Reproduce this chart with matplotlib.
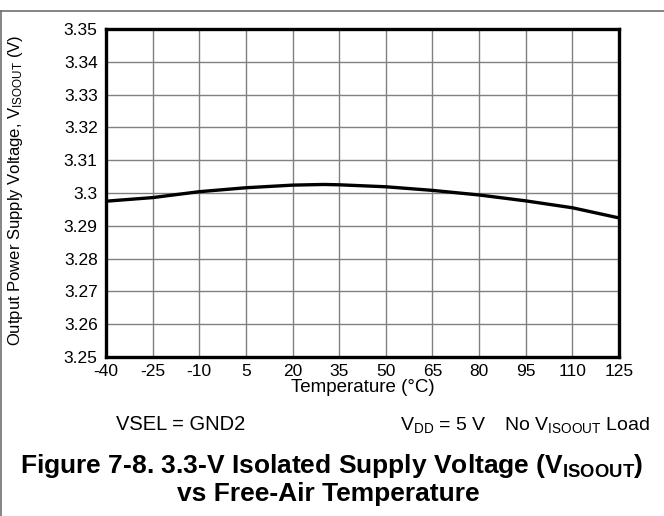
import matplotlib
matplotlib.use("Agg")
import matplotlib.pyplot as plt
from matplotlib.lines import Line2D

plt.rcParams['font.family'] = ['Liberation Sans', 'DejaVu Sans']
plt.rcParams['mathtext.fontset'] = 'custom'
plt.rcParams['mathtext.rm'] = 'Liberation Sans'
plt.rcParams['mathtext.it'] = 'Liberation Sans:italic'
plt.rcParams['mathtext.bf'] = 'Liberation Sans:bold'

# Data
temperature = [-40, -25, -10, 5, 20, 30, 35, 50, 65, 80, 95, 110, 125]
v_isoout = [3.2975, 3.2986, 3.3004, 3.3016, 3.3024, 3.3026, 3.3025, 3.3019, 3.3008, 3.2994, 3.2976, 3.2955, 3.2924]
x_ticks = [-40, -25, -10, 5, 20, 35, 50, 65, 80, 95, 110, 125]
y_ticks = [3.25, 3.26, 3.27, 3.28, 3.29, 3.30, 3.31, 3.32, 3.33, 3.34, 3.35]
y_tick_labels = ['3.25', '3.26', '3.27', '3.28', '3.29', '3.3', '3.31', '3.32', '3.33', '3.34', '3.35']

W, H = 664, 516
fig = plt.figure(figsize=(W / 100, H / 100), dpi=100)
ax = fig.add_axes([106 / W, 1 - 357 / H, (619 - 106) / W, (357 - 29) / H])

ax.plot(temperature, v_isoout, color='black', lw=2.4, zorder=3)
ax.set_xlim(-40, 125)
ax.set_ylim(3.25, 3.35)
ax.set_xticks(x_ticks)
ax.set_xticklabels([str(t) for t in x_ticks])
ax.set_yticks(y_ticks)
ax.set_yticklabels(y_tick_labels)
ax.grid(True, color='#808080', lw=1.0)
ax.tick_params(length=0, labelsize=12.5)
ax.tick_params(axis='y', pad=6)
ax.tick_params(axis='x', pad=5)
for s in ax.spines.values():
    s.set_linewidth(2.4)
    s.set_color('black')

fig.text(363 / W, 1 - 387 / H, 'Temperature (°C)', fontsize=13.5, ha='center', va='center')
fig.text(16 / W, 1 - 190 / H, r'Output Power Supply Voltage, $\mathrm{V_{ISOOUT}}$ (V)',
         fontsize=12, ha='center', va='center', rotation=90)

# condition texts
fig.text(181 / W, 1 - 430 / H, 'VSEL = GND2', fontsize=14.5, ha='center', va='baseline')
fig.text(487 / W, 1 - 430 / H, r'$\mathrm{V_{DD}}$ = 5 V', fontsize=14, ha='right', va='baseline')
fig.text(650 / W, 1 - 430 / H, r'No $\mathrm{V_{ISOOUT}}$ Load', fontsize=14, ha='right', va='baseline')

# title
fig.text(332 / W, 1 - 466 / H, r'Figure 7-8. 3.3-V Isolated Supply Voltage ($\mathbf{V_{ISOOUT}}$)',
         fontsize=19, fontweight='bold', ha='center', va='center')
fig.text(328 / W, 1 - 494 / H, 'vs Free-Air Temperature',
         fontsize=19, fontweight='bold', ha='center', va='center')

# frame lines
fig.add_artist(Line2D([0, 1], [1 - 11 / H, 1 - 11 / H], transform=fig.transFigure, color='#707070', lw=1.2))
fig.add_artist(Line2D([1 / W, 1 / W], [0, 1 - 11 / H], transform=fig.transFigure, color='#707070', lw=1.2))

fig.savefig('out.png', dpi=100)
